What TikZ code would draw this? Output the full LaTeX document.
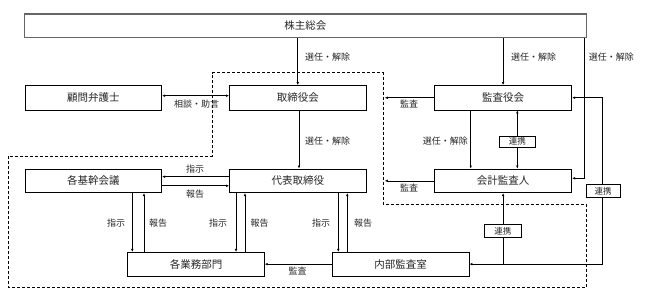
\documentclass[tikz,border=0pt]{standalone}
\usepackage{fontspec}
\newfontfamily\jp{Noto Sans CJK JP}
\usetikzlibrary{arrows.meta}
\begin{document}
\begin{tikzpicture}[x=1pt,y=-1pt,
  box/.style={draw=black, line width=0.8pt, inner sep=0pt, text=black!85, font=\jp\fontsize{10.5}{12}\selectfont},
  lbl/.style={inner sep=0pt, text=black!85, font=\jp\fontsize{9}{10}\selectfont},
  tag/.style={draw=black, line width=0.7pt, fill=white, inner sep=0pt, text=black!85, font=\jp\fontsize{8.5}{10}\selectfont},
  conn/.style={line width=0.6pt, -{Latex[length=3pt,width=2.6pt]}},
  both/.style={line width=0.6pt, {Latex[length=3pt,width=2.6pt]}-{Latex[length=3pt,width=2.6pt]}},
  plain/.style={line width=0.6pt},
  frame/.style={line width=0.7pt, dashed, dash pattern=on 3pt off 2pt}]
\useasboundingbox (0,0) rectangle (645,304);

% boxes
\node[box, draw=black!60, line width=1.1pt, minimum width=562pt, minimum height=23.7pt] (top) at (305.3,25.85) {株主総会};
\node[box, minimum width=136.7pt, minimum height=24.5pt] (komon) at (93.35,97.75) {顧問弁護士};
\node[box, minimum width=136.5pt, minimum height=24.5pt] (tori) at (297.75,97.75) {取締役会};
\node[box, minimum width=137.2pt, minimum height=24.5pt] (kansa) at (503.1,97.75) {監査役会};
\node[box, minimum width=136.7pt, minimum height=23.7pt] (kikan) at (93.35,180.85) {各基幹会議};
\node[box, minimum width=136.5pt, minimum height=23.7pt] (daihyo) at (297.75,180.85) {代表取締役};
\node[box, minimum width=137.2pt, minimum height=23.7pt] (kaikei) at (503.1,180.85) {会計監査人};
\node[box, minimum width=136.6pt, minimum height=23.7pt] (gyomu) at (196,264.15) {各業務部門};
\node[box, minimum width=136.7pt, minimum height=23.7pt] (naibu) at (400.65,264.15) {内部監査室};

% dashed frame
\draw[frame] (212.3,72.7) -- (383.3,72.7) -- (383.3,204.3) -- (586,204.3) -- (586,287.7) -- (8.3,287.7) -- (8.3,156) -- (212.3,156) -- cycle;

% helper coordinates
\coordinate (xa) at (297.75,0);
\coordinate (xb) at (299,0);
\coordinate (xr) at (584.3,178.3);
\coordinate (c1) at (602.5,97.7);
\coordinate (c2) at (602.5,264.15);
\coordinate (d1) at (384.8,0);
\coordinate (xk1) at (470.7,0);
\coordinate (xk2) at (517.3,0);
\coordinate (ya) at (0,95.7);
\coordinate (y1) at (0,176.7);
\coordinate (y2) at (0,185.8);
\coordinate (v1) at (132.3,0);
\coordinate (v2) at (144,0);
\coordinate (v3) at (236,0);
\coordinate (v4) at (245,0);
\coordinate (v5) at (338.3,0);
\coordinate (v6) at (347.3,0);

% connectors
\draw[conn] (top.south -| xa) -- (tori.north -| xa);
\draw[conn] (top.south -| kansa) -- (kansa.north);
\draw[conn] (top.south -| xr) -- (xr) -- (kaikei.east |- xr);
\draw[both] (kansa.east |- c1) -- (c1) -- (c2) -- (naibu.east);
\draw[conn] (kaikei.south |- naibu.east) -- (kaikei.south);
\draw[conn] (tori.south -| xb) -- (daihyo.north -| xb);
\draw[conn] (kansa.south -| xk1) -- (kaikei.north -| xk1);
\draw[both] (kansa.south -| xk2) -- (kaikei.north -| xk2);
\draw[conn] (kansa.west) -- (kansa.west -| d1);
\draw[conn] (kaikei.west) -- (kaikei.west -| d1);
\draw[both] (komon.east |- ya) -- (tori.west |- ya);
\draw[conn] (daihyo.west |- y1) -- (kikan.east |- y1);
\draw[conn] (kikan.east |- y2) -- (daihyo.west |- y2);
\draw[conn] (kikan.south -| v1) -- (gyomu.north -| v1);
\draw[conn] (gyomu.north -| v2) -- (kikan.south -| v2);
\draw[conn] (daihyo.south -| v3) -- (gyomu.north -| v3);
\draw[conn] (gyomu.north -| v4) -- (daihyo.south -| v4);
\draw[conn] (daihyo.south -| v5) -- (naibu.north -| v5);
\draw[conn] (naibu.north -| v6) -- (daihyo.south -| v6);
\draw[conn] (naibu.west) -- (gyomu.east);

% tags
\node[tag, minimum width=36.7pt, minimum height=11.3pt] (r1) at (517.35,141.65) {連携};
\node[tag, minimum width=37pt, minimum height=13pt] (r2) at (502.8,230.8) {連携};
\node[tag, minimum width=34.3pt, minimum height=13pt] (r3) at (603.15,190.8) {連携};

% labels
\node[lbl, anchor=west] (l1) at (305,56.7) {選任・解除};
\node[lbl, anchor=west] (l2) at (511,56.7) {選任・解除};
\node[lbl, anchor=west] (l3) at (588.7,56.7) {選任・解除};
\node[lbl] (l4) at (196.5,104.3) {相談・助言};
\node[lbl] (l5) at (409,104.3) {監査};
\node[lbl] (l6) at (409,188) {監査};
\node[lbl, anchor=west] (l7) at (305,141) {選任・解除};
\node[lbl, anchor=east] (l8) at (468,141) {選任・解除};
\node[lbl] (l9) at (195,169.5) {指示};
\node[lbl] (l10) at (195,194) {報告};
\node[lbl] (l11) at (116,223.3) {指示};
\node[lbl] (l12) at (158,223.3) {報告};
\node[lbl] (l13) at (218,223.3) {指示};
\node[lbl] (l14) at (259.5,223.3) {報告};
\node[lbl] (l15) at (321,223.3) {指示};
\node[lbl] (l16) at (363,223.3) {報告};
\node[lbl] (l17) at (297.5,270.5) {監査};
\end{tikzpicture}
\end{document}
